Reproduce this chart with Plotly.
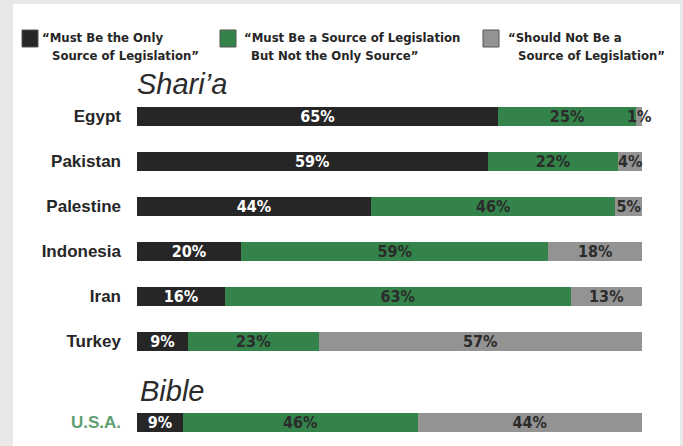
import plotly.graph_objects as go

# Survey responses: role of religious scripture as a source of legislation
countries = ["Egypt", "Pakistan", "Palestine", "Indonesia", "Iran", "Turkey", "U.S.A."]
only_source = [65, 59, 44, 20, 16, 9, 9]
a_source = [25, 22, 46, 59, 63, 23, 46]
not_source = [1, 4, 5, 18, 13, 57, 44]

legend_line1 = ["\u201cMust Be the Only", "\u201cMust Be a Source of Legislation", "\u201cShould Not Be a"]
legend_line2 = ["Source of Legislation\u201d", "But Not the Only Source\u201d", "Source of Legislation\u201d"]

# vertical slot of each row (U.S.A. sits below a section break)
row_pos = [0, 1, 2, 3, 4, 5, 6.8]

W, H = 683, 446
BLACK, GREEN, GRAY = "#262626", "#33834a", "#939393"
LABEL_FONT = "DejaVu Sans Condensed, Liberation Sans Narrow, sans-serif"
TEXT_DARK = "#2b2b2b"


def fx(x):
    return x / W


def fy(y):
    return 1 - y / H


fig = go.Figure()
series = [
    (only_source, BLACK, "white"),
    (a_source, GREEN, TEXT_DARK),
    (not_source, GRAY, TEXT_DARK),
]
for (vals, color, tcolor), name in zip(series, legend_line1):
    fig.add_trace(go.Bar(
        y=row_pos, x=vals, orientation="h", name=name,
        marker=dict(color=color, line=dict(width=0)),
        text=[f"{v}%" for v in vals], texttemplate="%{text}",
        textposition="inside", insidetextanchor="middle", textangle=0,
        textfont=dict(family=LABEL_FONT, size=16, color=tcolor, weight=700),
        width=0.42, cliponaxis=False, hoverinfo="skip", showlegend=False,
    ))

ticktext = [c if c != "U.S.A." else '<span style="color:#5f9f72">U.S.A.</span>' for c in countries]

fig.update_layout(
    width=W, height=H,
    margin=dict(l=0, r=0, t=0, b=0),
    barmode="stack", barnorm="percent",
    paper_bgcolor="#e8e8e8", plot_bgcolor="rgba(0,0,0,0)",
    uniformtext=dict(minsize=16, mode="show"),
    xaxis=dict(domain=[fx(137), fx(642)], range=[0, 100], visible=False, fixedrange=True),
    yaxis=dict(
        domain=[0, 1], range=[(H - 116.5) / 45, -116.5 / 45],
        tickmode="array", tickvals=row_pos, ticktext=ticktext,
        showgrid=False, zeroline=False, showline=False, ticks="",
        ticklabelstandoff=15,
        tickfont=dict(family="Liberation Sans, Arial, sans-serif", size=17, color="#262626", weight=700),
    ),
    showlegend=False,
)

shapes = [dict(type="rect", xref="paper", yref="paper", x0=fx(13), x1=fx(680), y0=fy(446), y1=fy(4),
               fillcolor="white", line=dict(width=0), layer="below")]
annotations = []

# Legend: swatches and two-line labels
swatch_x = [22, 220, 483]
line1_x = [40, 242, 506]
line2_x = [50, 249, 516]
for color, sx, t1, t2, x1, x2 in zip([BLACK, GREEN, GRAY], swatch_x, legend_line1, legend_line2, line1_x, line2_x):
    shapes.append(dict(type="rect", xref="paper", yref="paper", x0=fx(sx), x1=fx(sx + 16),
                       y0=fy(47), y1=fy(30), fillcolor=color, line=dict(color="#555555", width=1)))
    for txt, tx, ty in ((t1, x1, 37), (t2, x2, 55)):
        annotations.append(dict(text=txt, xref="paper", yref="paper", x=fx(tx), y=fy(ty),
                                xanchor="left", yanchor="middle", showarrow=False,
                                font=dict(family=LABEL_FONT, size=13, color="#262626", weight=700)))

# Section headings
for txt, tx, ty in (("Shari\u2019a", 135, 84), ("Bible", 138, 391)):
    annotations.append(dict(text=f"<i>{txt}</i>", xref="paper", yref="paper", x=fx(tx), y=fy(ty),
                            xanchor="left", yanchor="middle", showarrow=False,
                            font=dict(family="Liberation Sans, Arial, sans-serif", size=29, color="#2b2b2b")))

fig.update_layout(shapes=shapes, annotations=annotations)
fig.write_html("out.html")
